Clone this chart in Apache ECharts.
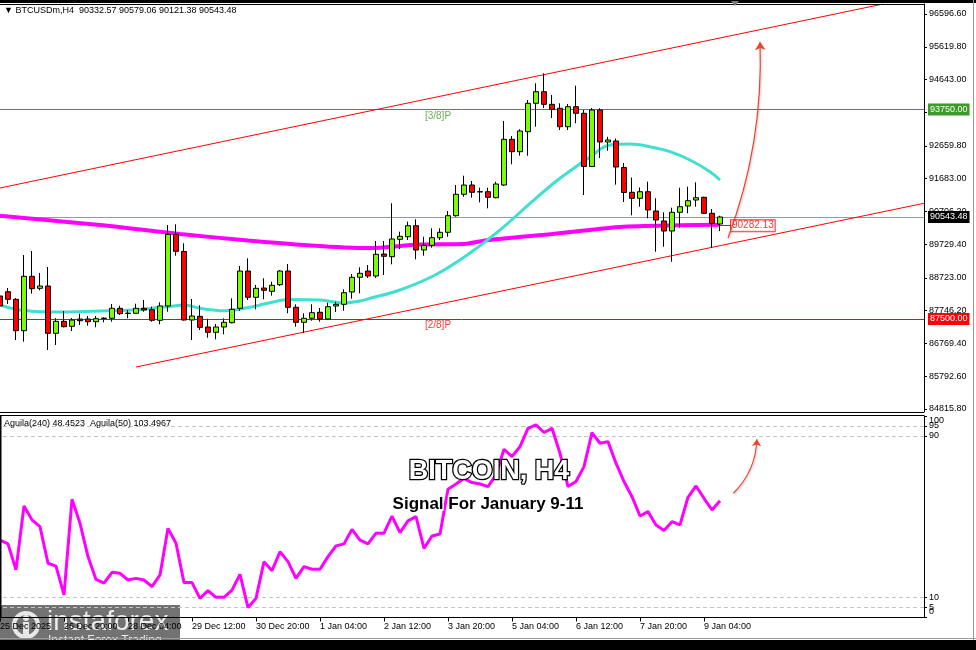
<!DOCTYPE html>
<html><head><meta charset="utf-8">
<script src="https://cdn.jsdelivr.net/npm/echarts@6/dist/echarts.min.js"></script>
<style>html,body{margin:0;padding:0;background:#fff;overflow:hidden}#c{width:976px;height:650px}</style>
</head><body><div id="c"></div><script>
// ---------- DATA ----------
const barOpen  = [88186,88314,88087,87151,88773,88415,88484,87073,87431,87282,87500,87500,87419,87525,87521,87819,87675,87670,87819,87777,87461,87888,90026,89513,87470,87580,87261,87103,87261,87389,87819,88931,88147,88424,88326,88523,88931,87849,87401,87521,87700,87500,87888,87938,88305,88744,88931,88782,89438,89358,89877,89954,90283,89558,89698,89925,90086,90581,91219,91496,91296,91296,91118,91496,92859,92490,93086,93933,94279,93903,93784,93235,93832,93635,92049,93733,92779,92809,92018,91279,91100,91296,90721,90423,90124,90682,90870,91049,91130,90652,90332.57];
const barHigh  = [88356,88424,88126,89409,89528,88872,89051,87530,87738,87530,87658,87589,87589,87551,87947,87896,87768,87956,88066,87867,87998,90303,90324,89758,88096,87908,87509,87351,87521,88117,89081,89310,88514,88714,88612,88961,89140,87938,87670,87938,87828,87986,88016,88386,88842,89042,89110,89826,89826,90951,90104,90402,90474,89954,90205,90205,90721,91496,91774,91616,91416,91416,91595,93405,92958,93158,94032,94530,94828,94181,93933,93912,94458,93733,93793,93784,92934,92883,92153,91720,91422,91595,91100,90682,90820,91416,91446,91577,91147,90780,90579.06];
const barLow   = [87470,87947,86874,86823,88254,88356,86575,86724,87252,87142,87321,87300,87252,87401,87419,87619,87521,87658,87718,87419,87342,87718,89388,87455,86874,87172,86942,86894,87043,87372,87747,88066,87789,88087,88195,88484,87670,87270,87091,87449,87419,87470,87709,87747,88105,88266,88723,88723,88812,89131,89588,89856,89280,89388,89626,89856,89954,90551,91147,91118,90980,90801,91100,91467,92114,92370,92370,93235,93793,93495,93137,93137,93337,91198,92042,92302,92517,91506,90990,90593,90849,90503,89507,89656,89209,90223,90652,90849,90640,89626,90121.38];
const barClose = [87888,88087,87151,88773,88404,88484,87073,87431,87270,87470,87449,87419,87509,87515,87819,87658,87665,87819,87768,87461,87888,90026,89519,87470,87589,87252,87103,87261,87401,87789,88931,88147,88415,88356,88505,88931,87849,87401,87521,87688,87500,87867,87938,88284,88744,88863,88782,89430,89370,89886,89966,90283,89558,89698,89925,90086,90581,91219,91496,91279,91290,91130,91526,92859,92490,93107,93933,94279,93903,93754,93235,93832,93635,92049,93733,92779,92839,92033,91273,91100,91296,90751,90453,90124,90682,90849,91028,91118,90652,90354,90543.48];

const timeLabels = ['25 Dec 2025','26 Dec 20:00','28 Dec 04:00','29 Dec 12:00','30 Dec 20:00','1 Jan 04:00','2 Jan 12:00','3 Jan 20:00','5 Jan 04:00','6 Jan 12:00','7 Jan 20:00','9 Jan 04:00'];
const barsPerLabel = 8;
const totalSlots = 116;

const priceTicks = [96596.60,95619.80,94643.00,93666.20,92659.80,91683.00,90706.20,89729.40,88723.00,87746.20,86769.40,85792.60,84815.80];
const priceMin = 84726.25, priceMax = 96894.85;

const maSlowIdx = [0,12.5,22.5,31,37.5,46,52.5,58,61,69,72.5,77.5,85,90];
const maSlowVal = [90578,90303,90035,89841,89716,89617,89722,89737,89856,90035,90124,90244,90294,90312];
const maFastIdx = [0,2.5,6.25,12.5,16.6,20.9,23.1,25,28.1,31.25,33.4,36.25,40,42.9,45,46.25,50,54.4,58.1,62.25,66.5,69.4,71.25,73.75,76.25,78.75,81.25,83.75,86.25,88.75,90];
const maFastVal = [87917,87768,87709,87738,87768,87867,87917,87819,87747,87849,87968,88081,88066,87977,88037,88117,88365,88812,89358,90104,91000,91586,91914,92332,92690,92719,92639,92490,92242,91893,91646];

const channelUpper = [[-0.5,91383],[110.4,96895]];
const channelLower = [[17,86068],[115.5,90951]];

const levelNames  = ['[3/8]P','[2/8]P'];
const levelValues = [93750,87500];
const levelColors = ['#3c9a28','#ff0000'];
const levelTextIdx = 54.75;
const lastPrice = 90543.48;
const maLabelValue = 90282.13;

const aguila = [38.4,36.5,23.6,55.3,48.4,45.0,26.9,25.5,11.2,58.6,46.7,30.2,18.9,17.0,22.4,21.9,18.6,19.4,18.6,15.3,21.1,44.2,36.8,17.3,17.3,9.5,13.3,10.0,10.0,13.6,21.4,4.9,9.5,27.7,23.2,32.6,27.7,19.4,25.2,23.9,23.9,30.2,35.5,36.5,43.7,38.4,36.5,41.8,41.8,50.3,42.1,47.9,50.0,34.3,40.4,41.4,63.6,66.2,69.0,66.9,66.2,64.9,70.7,83.4,79.8,84.7,93.8,95.5,91.7,93.8,81.4,64.9,67.4,74.8,91.7,86.4,87.2,76.5,67.4,59.9,50.3,52.5,45.9,43.1,47.5,45.9,59.6,65.2,59.1,53.3,57.9];
const aguilaLevels = [5,10,90,95];
const aguilaTicks = [0,5,10,90,95,100];
const aguilaEdgeTicks = [0,100];

const arrowMain = [[91,89916],[95,95761]];
const arrowInd  = [[91.67,61.6],[94.6,88.4]];

// ---------- BUILD ----------
const cats = Array.from({length: totalSlots}, (_, i) => String(i));
const candleData = barOpen.map((o, i) => [o, barClose[i], barLow[i], barHigh[i]]);
const pairs = (xs, ys) => xs.map((x, i) => [x, ys[i]]);
const FONT = 'Liberation Sans';
const showLabel = (i) => i % barsPerLabel === 0 && i / barsPerLabel < timeLabels.length;

function tag(v, bg, fg) {
  return {
    yAxis: v,
    label: {show: true, position: 'end', distance: 4, formatter: v.toFixed(2),
      backgroundColor: bg, color: fg, padding: [2, 2, 1, 2], fontSize: 9, fontFamily: FONT}
  };
}

const chart = echarts.init(document.getElementById('c'), null, {renderer: 'canvas'});
chart.setOption({
  animation: false,
  backgroundColor: '#ffffff',
  grid: [
    {left: -4, top: 4, width: 928, height: 408, show: false, containLabel: false, outerBoundsMode: 'none'},
    {left: -4, top: 415.8, width: 928, height: 201.7, show: false, containLabel: false, outerBoundsMode: 'none'}
  ],
  xAxis: [
    {type: 'category', gridIndex: 0, data: cats, boundaryGap: true, show: false, axisLine: {onZero: false}},
    {type: 'value', gridIndex: 0, min: -0.5, max: totalSlots - 0.5, show: false, axisLine: {onZero: false}},
    {type: 'category', gridIndex: 1, data: cats, boundaryGap: true,
      axisLine: {show: true, onZero: false, lineStyle: {color: '#000'}},
      axisTick: {show: true, interval: showLabel, alignWithLabel: true, length: 4, lineStyle: {color: '#000'}},
      axisLabel: {interval: showLabel, formatter: (v) => timeLabels[+v / barsPerLabel] || '', align: 'left',
        margin: 5, fontSize: 9, fontFamily: FONT, color: '#000'},
      splitLine: {show: false}},
    {type: 'value', gridIndex: 1, min: -0.5, max: totalSlots - 0.5, show: false, axisLine: {onZero: false}}
  ],
  yAxis: [
    {type: 'value', gridIndex: 0, position: 'right', min: priceMin, max: priceMax, scale: true,
      axisLine: {show: true, onZero: false, lineStyle: {color: '#000'}},
      axisTick: {show: true, customValues: priceTicks, length: 3, lineStyle: {color: '#000'}},
      axisLabel: {customValues: priceTicks, formatter: (v) => v.toFixed(2), margin: 5, fontSize: 9, fontFamily: FONT, color: '#000'},
      splitLine: {show: false}},
    {type: 'value', gridIndex: 1, position: 'right', min: 0, max: 100,
      axisLine: {show: true, onZero: false, lineStyle: {color: '#000'}},
      axisTick: {show: true, customValues: aguilaTicks, length: 3, lineStyle: {color: '#000'}},
      axisLabel: {customValues: aguilaLevels, formatter: (v) => String(v), margin: 5, fontSize: 9, fontFamily: FONT, color: '#000'},
      splitLine: {show: false}},
    {type: 'value', gridIndex: 1, position: 'right', min: 0, max: 100,
      axisLine: {show: false, onZero: false}, axisTick: {show: false},
      axisLabel: {customValues: aguilaEdgeTicks, showMinLabel: true, showMaxLabel: true,
        formatter: (v) => v === 0 ? '{lo|0}' : '{hi|100}',
        rich: {lo: {padding: [0, 0, 11, 0], fontSize: 9, fontFamily: FONT, color: '#000'},
               hi: {padding: [10, 0, 0, 0], fontSize: 9, fontFamily: FONT, color: '#000'}},
        margin: 5, fontSize: 9, fontFamily: FONT, color: '#000'},
      splitLine: {show: false}}
  ],
  series: [
    {type: 'line', name: 'MA slow', xAxisIndex: 1, yAxisIndex: 0, data: pairs(maSlowIdx, maSlowVal),
      showSymbol: false, smooth: 0.3, z: 2, lineStyle: {color: '#ff00ff', width: 4}},
    {type: 'line', name: 'MA fast', xAxisIndex: 1, yAxisIndex: 0, data: pairs(maFastIdx, maFastVal),
      showSymbol: false, smooth: 0.4, z: 2, lineStyle: {color: '#40e0d0', width: 3}},
    {type: 'line', name: 'upper', xAxisIndex: 1, yAxisIndex: 0, data: channelUpper, showSymbol: false, z: 3,
      lineStyle: {color: '#ff0000', width: 1}},
    {type: 'line', name: 'lower', xAxisIndex: 1, yAxisIndex: 0, data: channelLower, showSymbol: false, z: 3,
      lineStyle: {color: '#ff0000', width: 1}},
    {type: 'candlestick', name: 'BTCUSDm', xAxisIndex: 0, yAxisIndex: 0, data: candleData, barWidth: 5, z: 5,
      itemStyle: {color: '#7cfc00', color0: '#ff0000', borderColor: '#000', borderColor0: '#000', borderColorDoji: '#000', borderWidth: 1},
      markLine: {symbol: 'none', silent: true, animation: false, z: 1,
        data: [
          Object.assign(tag(levelValues[0], levelColors[0], '#fff'), {lineStyle: {color: levelColors[0], width: 1, type: 'solid'}}),
          Object.assign(tag(levelValues[1], levelColors[1], '#fff'), {lineStyle: {color: levelColors[1], width: 1, type: 'solid'}}),
          Object.assign(tag(lastPrice, '#000', '#fff'), {lineStyle: {color: '#8c9bb0', width: 1, type: 'solid'}})
        ]}},
    {type: 'scatter', name: 'levelText', xAxisIndex: 1, yAxisIndex: 0, symbolSize: 0, z: 6,
      data: levelValues.map((v, i) => ({value: [levelTextIdx, v],
        label: {show: true, position: 'bottom', distance: 1.5, formatter: levelNames[i], color: levelColors[i], fontSize: 10, fontFamily: FONT}}))},
    {type: 'scatter', name: 'maLabel', xAxisIndex: 1, yAxisIndex: 0, symbolSize: 0, z: 6,
      data: [{value: [90, maLabelValue], label: {show: true, position: 'right', distance: 11, formatter: maLabelValue.toFixed(2),
        color: '#ff0000', fontSize: 10, fontFamily: FONT, backgroundColor: '#fff', borderColor: '#ff0000', borderWidth: 1, padding: [1, 1, 0, 1]}}],
      markLine: {symbol: 'none', silent: true, label: {show: false}, lineStyle: {color: '#ff0000', width: 1, type: 'solid'},
        data: [[{coord: [90, maLabelValue]}, {coord: [91.4, maLabelValue]}]]}},
    {type: 'lines', name: 'arrowMain', coordinateSystem: 'cartesian2d', xAxisIndex: 1, yAxisIndex: 0, z: 7,
      symbol: ['none', 'arrow'], symbolSize: 8,
      lineStyle: {color: '#f0402a', width: 1.2, curveness: -0.1, opacity: 1, shadowColor: 'rgba(0,0,0,0.25)', shadowBlur: 2, shadowOffsetX: 1, shadowOffsetY: 1},
      data: [{coords: arrowMain}]},
    {type: 'line', name: 'Aguila(240)', xAxisIndex: 2, yAxisIndex: 1, data: aguila, showSymbol: false, z: 3,
      lineStyle: {color: '#ff00ff', width: 3},
      markLine: {symbol: 'none', silent: true, label: {show: false}, z: 1,
        lineStyle: {color: '#c4c4c4', width: 1, type: [4, 3]},
        data: aguilaLevels.map(v => ({yAxis: v}))}},
    {type: 'lines', name: 'arrowInd', coordinateSystem: 'cartesian2d', xAxisIndex: 3, yAxisIndex: 1, z: 7,
      symbol: ['none', 'arrow'], symbolSize: 7,
      lineStyle: {color: '#f0402a', width: 1.1, curveness: -0.2, opacity: 1, shadowColor: 'rgba(0,0,0,0.25)', shadowBlur: 2, shadowOffsetX: 1, shadowOffsetY: 1},
      data: [{coords: arrowInd}]}
  ],
  graphic: [
    {type: 'rect', shape: {x: 0, y: 0, width: 976, height: 3}, style: {fill: '#000'}, z: 100},
    {type: 'line', shape: {x1: 0, y1: 4.5, x2: 924, y2: 4.5}, style: {stroke: '#000', lineWidth: 1}, z: 100},
    {type: 'line', shape: {x1: 0, y1: 412.5, x2: 924, y2: 412.5}, style: {stroke: '#000', lineWidth: 1}, z: 100},
    {type: 'line', shape: {x1: 0, y1: 415.5, x2: 924, y2: 415.5}, style: {stroke: '#000', lineWidth: 1}, z: 100},
    {type: 'polygon', shape: {points: [[731, 1], [739, 1], [735, 6]]}, style: {fill: '#7a7a7a'}, z: 101},
    {type: 'text', style: {x: 4, y: 11, text: '\u25BC BTCUSDm,H4  90332.57 90579.06 90121.38 90543.48', font: '9px "Liberation Sans"', fill: '#000', verticalAlign: 'middle'}, z: 100},
    {type: 'text', style: {x: 4, y: 423.5, text: 'Aguila(240) 48.4523  Aguila(50) 103.4967', font: '9px "Liberation Sans"', fill: '#000', verticalAlign: 'middle'}, z: 100},
    {type: 'line', shape: {x1: 0.5, y1: 416, x2: 0.5, y2: 618}, style: {stroke: '#000', lineWidth: 2}, z: 100},
    {type: 'line', shape: {x1: 973.5, y1: 0, x2: 973.5, y2: 640}, style: {stroke: '#9a9a9a', lineWidth: 1}, z: 100},
    {type: 'line', shape: {x1: 0, y1: 638.5, x2: 976, y2: 638.5}, style: {stroke: '#9a9a9a', lineWidth: 1}, z: 100},
    {type: 'rect', shape: {x: 0, y: 640, width: 976, height: 10}, style: {fill: '#000'}, z: 100},
    {type: 'text', style: {x: 489, y: 472, text: 'BITCOIN, H4', font: 'bold 27px "Liberation Sans"', fill: '#fff', stroke: '#000', lineWidth: 2.5,
      align: 'center', verticalAlign: 'middle', shadowColor: 'rgba(0,0,0,0.55)', shadowBlur: 3, shadowOffsetX: 2, shadowOffsetY: 2}, z: 110},
    {type: 'text', style: {x: 488, y: 504, text: 'Signal For January 9-11', font: 'bold 17px "Liberation Sans"', fill: '#000', stroke: '#fff', lineWidth: 3, strokeFirst: true,
      align: 'center', verticalAlign: 'middle', shadowColor: 'rgba(0,0,0,0.35)', shadowBlur: 3, shadowOffsetX: 1, shadowOffsetY: 1}, z: 110},
    {type: 'group', z: 120, children: [
      {type: 'rect', shape: {x: 0, y: 605, width: 180, height: 45}, style: {fill: 'rgba(95,95,95,0.88)'}},
      {type: 'circle', shape: {cx: 26, cy: 625, r: 12}, style: {fill: 'none', stroke: '#e8e8e8', lineWidth: 4}},
      {type: 'circle', shape: {cx: 26, cy: 618, r: 3}, style: {fill: '#e8e8e8'}},
      {type: 'rect', shape: {x: 23, y: 622, width: 6, height: 14}, style: {fill: '#e8e8e8'}},
      {type: 'text', style: {x: 47, y: 622, text: 'instaforex', font: '28px "Liberation Sans"', fill: '#ececec', verticalAlign: 'middle'}},
      {type: 'text', style: {x: 48, y: 641, text: 'Instant Forex Trading', font: '12px "Liberation Sans"', fill: '#ececec', verticalAlign: 'middle'}}
    ]}
  ]
});
</script></body></html>
